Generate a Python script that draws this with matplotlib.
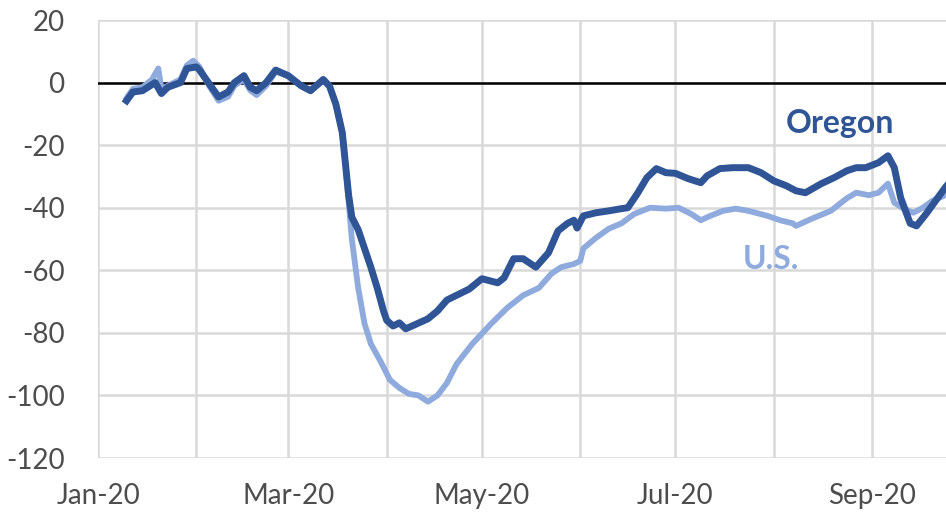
"""Oregon vs U.S. mobility change chart, saved to out.png"""

import matplotlib
matplotlib.use('Agg')
import matplotlib.pyplot as plt
import matplotlib.dates as mdates
import pandas as pd

plt.rcParams['font.family'] = ['Lato', 'DejaVu Sans']
plt.rcParams['axes.unicode_minus'] = False

oregon_dates = [
    "2020-01-10", "2020-01-12", "2020-01-15", "2020-01-19", "2020-01-21", "2020-01-23",
    "2020-01-27", "2020-01-29", "2020-02-01", "2020-02-02", "2020-02-05", "2020-02-08",
    "2020-02-11", "2020-02-13", "2020-02-16", "2020-02-18", "2020-02-20", "2020-02-23",
    "2020-02-26", "2020-03-01", "2020-03-05", "2020-03-08", "2020-03-12", "2020-03-14",
    "2020-03-16", "2020-03-18", "2020-03-19", "2020-03-20", "2020-03-21", "2020-03-23",
    "2020-03-25", "2020-03-27", "2020-03-29", "2020-03-31", "2020-04-01", "2020-04-03",
    "2020-04-05", "2020-04-07", "2020-04-09", "2020-04-14", "2020-04-17", "2020-04-20",
    "2020-04-23", "2020-04-27", "2020-05-01", "2020-05-06", "2020-05-08", "2020-05-11",
    "2020-05-14", "2020-05-18", "2020-05-22", "2020-05-25", "2020-05-28", "2020-05-30",
    "2020-05-31", "2020-06-02", "2020-06-06", "2020-06-10", "2020-06-14", "2020-06-16",
    "2020-06-19", "2020-06-22", "2020-06-25", "2020-06-28", "2020-07-01", "2020-07-05",
    "2020-07-09", "2020-07-11", "2020-07-15", "2020-07-19", "2020-07-24", "2020-07-28",
    "2020-08-01", "2020-08-05", "2020-08-08", "2020-08-11", "2020-08-16", "2020-08-20",
    "2020-08-24", "2020-08-27", "2020-08-30", "2020-09-03", "2020-09-06", "2020-09-08",
    "2020-09-10", "2020-09-13", "2020-09-15", "2020-09-18", "2020-09-21", "2020-09-24",
    "2020-09-27",
]
oregon_values = [
    -5.8, -3, -2.6, 0, -3.5, -1.5,
    0, 4.5, 5, 4, -0.3, -4.6,
    -3, 0, 2.2, -1.5, -2.6, 0,
    4, 2.2, -1, -2.6, 1, -1.2,
    -7, -16, -26, -36, -43, -47,
    -53, -59, -65.6, -73, -76, -77.8,
    -76.8, -78.7, -77.8, -75.5, -73, -69.5,
    -68, -66, -62.7, -64, -62.4, -56.3,
    -56.3, -59, -54.4, -47.4, -45, -44,
    -46.5, -42.6, -41.6, -41, -40.3, -40,
    -35.5, -30.4, -27.5, -28.8, -29, -30.7,
    -32, -29.8, -27.5, -27.2, -27.2, -28.8,
    -31.4, -33, -34.6, -35.2, -32.3, -30.4,
    -28.2, -27.2, -27.2, -25.6, -23.4, -27.2,
    -36.8, -45, -45.8, -42, -37.8, -33.6,
    -30,
]

us_dates = [
    "2020-01-10", "2020-01-12", "2020-01-15", "2020-01-18", "2020-01-20", "2020-01-21",
    "2020-01-23", "2020-01-27", "2020-01-29", "2020-01-31", "2020-02-02", "2020-02-05",
    "2020-02-08", "2020-02-11", "2020-02-13", "2020-02-16", "2020-02-18", "2020-02-20",
    "2020-02-23", "2020-02-26", "2020-03-01", "2020-03-05", "2020-03-08", "2020-03-12",
    "2020-03-14", "2020-03-16", "2020-03-18", "2020-03-19", "2020-03-20", "2020-03-21",
    "2020-03-23", "2020-03-25", "2020-03-27", "2020-03-30", "2020-04-02", "2020-04-05",
    "2020-04-08", "2020-04-11", "2020-04-14", "2020-04-17", "2020-04-20", "2020-04-23",
    "2020-04-28", "2020-05-04", "2020-05-09", "2020-05-14", "2020-05-19", "2020-05-23",
    "2020-05-26", "2020-05-30", "2020-06-01", "2020-06-02", "2020-06-06", "2020-06-10",
    "2020-06-14", "2020-06-18", "2020-06-23", "2020-06-28", "2020-07-02", "2020-07-06",
    "2020-07-09", "2020-07-12", "2020-07-16", "2020-07-20", "2020-07-24", "2020-07-30",
    "2020-08-03", "2020-08-07", "2020-08-08", "2020-08-13", "2020-08-19", "2020-08-24",
    "2020-08-27", "2020-08-31", "2020-09-03", "2020-09-06", "2020-09-08", "2020-09-11",
    "2020-09-14", "2020-09-17", "2020-09-20", "2020-09-24", "2020-09-27",
]
us_values = [
    -5, -2, -1.5, 1, 4.5, -2,
    -1, 1, 5.5, 7, 5, -1,
    -5.8, -4.5, -1, 1, -2.5, -4,
    -1, 3.5, 2, -1, -2.5, 0.5,
    -1, -7, -16, -26, -38, -50,
    -65.6, -77, -83.5, -89, -95, -97.6,
    -99.5, -100, -102, -100, -96, -90,
    -83.5, -77, -72, -68, -65.6, -61,
    -59, -58, -57, -53, -49.6, -46.7,
    -45, -42, -40, -40.3, -40, -42,
    -44, -42.6, -41, -40.3, -41, -42.6,
    -44, -45, -45.8, -43.5, -41, -37,
    -35.2, -36, -35.2, -32.3, -38.4, -40.3,
    -41.6, -40, -37.8, -36, -34,
]

y_ticks = [20, 0, -20, -40, -60, -80, -100, -120]

OREGON_COLOR = '#2F5597'
US_COLOR = '#8FAADC'
TEXT_COLOR = '#4D4D4D'
GRID_COLOR = '#D9D9D9'


def init_figure():
    fig = plt.figure(figsize=(9.46, 5.16), dpi=100)
    ax = fig.add_axes((0.1036, 0.1124, 0.8964, 0.8488))
    ax.set_ylim(-120, 20)
    ax.set_yticks(y_ticks)
    ax.set_xlim(pd.Timestamp("2020-01-01"), pd.Timestamp("2020-09-24 07:00"))

    ax.xaxis.set_major_locator(mdates.MonthLocator(bymonth=[1, 3, 5, 7, 9]))
    ax.xaxis.set_major_formatter(mdates.DateFormatter('%b-%y'))
    ax.xaxis.set_minor_locator(mdates.MonthLocator())

    ax.grid(True, which='both', color=GRID_COLOR, linewidth=1.8)
    ax.set_axisbelow(True)
    for spine in ax.spines.values():
        spine.set_visible(False)
    ax.tick_params(which='both', length=0, labelsize=20, colors=TEXT_COLOR)
    ax.tick_params(axis='y', pad=24)
    ax.tick_params(axis='x', pad=18)
    ax.axhline(0, color='black', linewidth=1.8, zorder=2)
    return fig, ax


def main():
    fig, ax = init_figure()
    ax.plot(pd.to_datetime(us_dates), us_values, color=US_COLOR,
            linewidth=4.2, solid_joinstyle='round', zorder=3)
    ax.plot(pd.to_datetime(oregon_dates), oregon_values, color=OREGON_COLOR,
            linewidth=5.0, solid_joinstyle='round', zorder=4)

    ax.text(pd.Timestamp("2020-08-22"), -13, 'Oregon', color=OREGON_COLOR,
            fontsize=23, fontweight='bold', ha='center', va='center')
    ax.text(pd.Timestamp("2020-07-31"), -56.5, 'U.S.', color=US_COLOR,
            fontsize=23, fontweight='bold', ha='center', va='center')

    fig.savefig('out.png', dpi=100)
    plt.close(fig)


if __name__ == "__main__":
    main()
